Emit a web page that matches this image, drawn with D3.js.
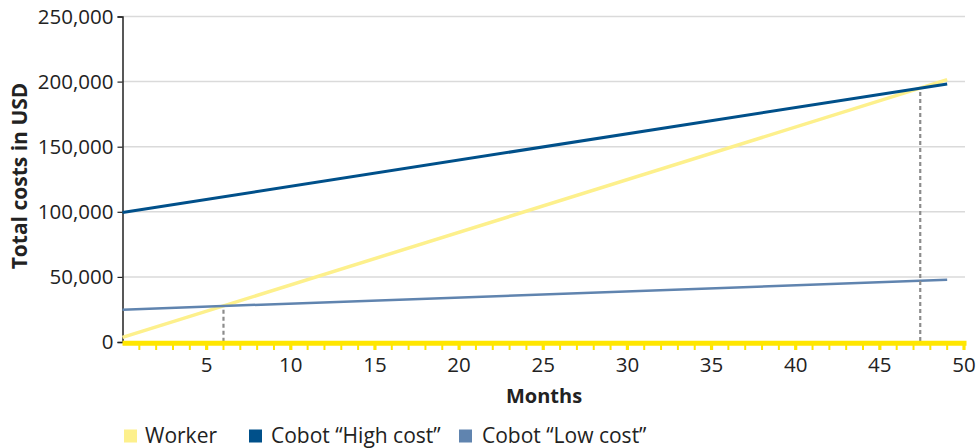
<!DOCTYPE html>
<html>
<head>
<meta charset="utf-8">
<script src="https://cdn.jsdelivr.net/npm/d3@7"></script>
<style>
  html, body { margin: 0; padding: 0; background: #fff; }
  svg { display: block; font-family: "Open Sans", "Noto Sans", sans-serif; }
</style>
</head>
<body>
<svg id="chart" width="980" height="448"></svg>
<script>
// Cumulative cost (USD) over time for each option
const months = [0, 49];
const workerCost = [3500, 201500];
const cobotHighCost = [99500, 198200];
const cobotLowCost = [24800, 47800];

// Break-even points where the worker line meets each cobot line
const breakEvenMonths = [6, 47.4];
const breakEvenCost = [27800, 195100];

const yTicks = [0, 50000, 100000, 150000, 200000, 250000];
const xTickLabels = [5, 10, 15, 20, 25, 30, 35, 40, 45, 50];

const seriesNames = ["Worker", "Cobot \u201cHigh cost\u201d", "Cobot \u201cLow cost\u201d"];
const seriesColors = ["#fdf08c", "#00508a", "#6084af"];

const svg = d3.select("#chart");
const x = d3.scaleLinear().domain([0, 50]).range([122.5, 964]);
const y = d3.scaleLinear().domain([0, 250000]).range([342, 16.5]);

// Horizontal gridlines
svg.append("g").selectAll("line").data(yTicks.filter(d => d > 0)).join("line")
  .attr("x1", x(0)).attr("x2", x(50) + 1)
  .attr("y1", d => y(d)).attr("y2", d => y(d))
  .attr("stroke", "#dadada").attr("stroke-width", 1.5);

// Y axis
const yAxis = svg.append("g").attr("transform", `translate(${x(0)},0)`)
  .call(d3.axisLeft(y).tickValues(yTicks).tickSize(5).tickPadding(4)
    .tickFormat(d3.format(",")));
yAxis.select(".domain").attr("stroke", "#222").attr("stroke-width", 1.5);
yAxis.selectAll(".tick line").attr("stroke", "#222").attr("stroke-width", 1.2);
yAxis.selectAll("text").attr("fill", "#222").style("font-size", "20.5px")
  .style("font-family", "'Open Sans', sans-serif");

// Lines
const line = d3.line().x((d, i) => x(months[i])).y(d => y(d));
const series = [workerCost, cobotHighCost, cobotLowCost];
const widths = [3.5, 3, 2.5];
svg.append("g").selectAll("path").data(series).join("path")
  .attr("d", d => line(d))
  .attr("fill", "none")
  .attr("stroke", (d, i) => seriesColors[i])
  .attr("stroke-width", (d, i) => widths[i]);

// Break-even drop lines
svg.append("g").selectAll("line").data(breakEvenMonths).join("line")
  .attr("x1", d => x(d)).attr("x2", d => x(d))
  .attr("y1", (d, i) => y(breakEvenCost[i]) + 4).attr("y2", y(0))
  .attr("stroke", "#8c8c8c").attr("stroke-width", 2.2)
  .attr("stroke-dasharray", "4,3");

// X axis: yellow baseline with monthly ticks
const monthTicks = d3.range(1, 51);
const xAxis = svg.append("g");
xAxis.selectAll("line.tick").data(monthTicks).join("line")
  .attr("class", "tick")
  .attr("x1", d => x(d)).attr("x2", d => x(d))
  .attr("y1", 343).attr("y2", 350)
  .attr("stroke", "#ffe600")
  .attr("stroke-width", d => d % 5 === 0 ? 3.2 : 2);
xAxis.append("line")
  .attr("x1", x(0)).attr("x2", x(50) + 2.5)
  .attr("y1", 343.3).attr("y2", 343.3)
  .attr("stroke", "#ffe600").attr("stroke-width", 5);
xAxis.selectAll("text").data(xTickLabels).join("text")
  .attr("x", d => x(d)).attr("y", 372)
  .attr("text-anchor", "middle")
  .attr("fill", "#222").style("font-size", "20.5px")
  .text(d => d);

// Axis titles
svg.append("text")
  .attr("x", 544).attr("y", 403)
  .attr("text-anchor", "middle")
  .attr("fill", "#222").style("font-size", "20px").style("font-weight", "bold")
  .text("Months");
svg.append("text")
  .attr("transform", "translate(26.5,176) rotate(-90)")
  .attr("text-anchor", "middle")
  .attr("fill", "#222").style("font-size", "21px").style("font-weight", "bold")
  .text("Total costs in USD");

// Legend
const legendX = [124, 249, 459];
const legendTextX = [145, 271, 482];
const legend = svg.append("g").selectAll("g").data(seriesNames).join("g");
legend.append("rect")
  .attr("x", (d, i) => legendX[i]).attr("y", 429.5)
  .attr("width", 13).attr("height", 13)
  .attr("fill", (d, i) => seriesColors[i]);
legend.append("text")
  .attr("x", (d, i) => legendTextX[i]).attr("y", 443)
  .attr("fill", "#222").style("font-size", "21px")
  .text(d => d);
</script>
</body>
</html>
